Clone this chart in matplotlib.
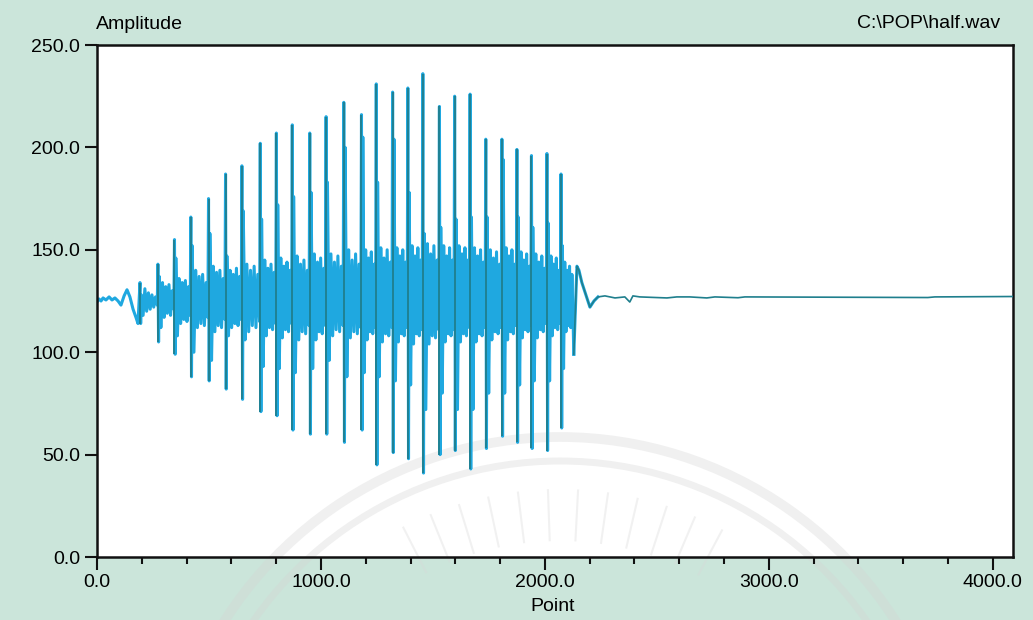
import matplotlib.pyplot as plt
from matplotlib.patches import Arc
from matplotlib.transforms import IdentityTransform
import numpy as np

# Waveform (x in points, y in amplitude units)

# onset before the first pitch pulse
onset_x = [0, 9, 18, 27, 40, 54, 67, 80, 94, 107, 121, 134, 147, 161, 174, 183]
onset_y = [124.5, 126, 125, 126.5, 125.5, 127, 125.5, 126.5, 125, 123, 127.5, 130.5, 127, 121, 117, 114]

# main pitch pulses: position, peak, trough
spike_x = [192, 272, 346, 419, 498, 574, 647, 729, 801, 872, 950, 1023, 1102, 1181,
           1247, 1320, 1388, 1455, 1529, 1597, 1666, 1736, 1808, 1875, 1940, 2009, 2072]
spike_top = [134, 143, 155, 166, 175, 187, 191, 202, 207, 211, 207, 215, 222, 216,
             231, 227, 229, 236, 220, 225, 226, 204, 204, 199, 196, 197, 187]
spike_bot = [114, 105, 99, 88, 86, 82, 77, 71, 69, 62, 60, 60, 56, 62,
             45, 51, 48, 41, 50, 52, 43, 53, 59, 56, 53, 52, 63]

# ripple between pulses (one row per pitch period)
ripple = [
    [128, 118, 131, 120, 129, 121, 128, 122, 127, 123],
    [137, 112, 134, 117, 132, 119, 133, 118, 130, 121],
    [146, 108, 136, 114, 134, 116, 135, 115, 132, 118],
    [152, 100, 140, 112, 137, 114, 138, 113, 134, 117],
    [158, 96, 142, 110, 139, 113, 140, 112, 136, 116],
    [147, 108, 140, 112, 138, 114, 141, 113, 137, 116],
    [169, 106, 143, 110, 140, 113, 142, 112, 138, 115],
    [165, 93, 145, 108, 141, 112, 143, 111, 139, 114],
    [172, 92, 146, 107, 142, 111, 144, 110, 140, 114],
    [176, 90, 147, 106, 143, 110, 145, 109, 140, 113],
    [178, 92, 148, 106, 144, 110, 146, 109, 141, 113],
    [183, 96, 148, 108, 144, 111, 147, 110, 142, 113],
    [200, 88, 150, 107, 145, 110, 148, 109, 143, 112],
    [205, 90, 150, 106, 146, 110, 149, 109, 143, 112],
    [183, 88, 151, 105, 146, 109, 150, 108, 144, 112],
    [204, 86, 151, 105, 147, 109, 150, 108, 144, 112],
    [178, 84, 152, 104, 147, 109, 151, 108, 145, 111],
    [158, 72, 153, 104, 148, 108, 152, 107, 145, 111],
    [161, 80, 152, 105, 147, 109, 151, 108, 145, 111],
    [165, 72, 152, 105, 148, 109, 151, 108, 145, 112],
    [166, 72, 151, 105, 147, 109, 150, 108, 144, 112],
    [166, 80, 150, 106, 146, 110, 149, 109, 143, 112],
    [194, 80, 151, 106, 147, 110, 150, 109, 143, 113],
    [166, 84, 149, 107, 145, 111, 148, 110, 142, 113],
    [161, 86, 148, 107, 144, 111, 147, 110, 141, 114],
    [163, 86, 147, 108, 143, 112, 146, 111, 140, 114],
    [152, 92, 144, 110, 140, 113, 142, 112, 138, 115],
]

# decay and silence after voicing
tail_x = [2129, 2143, 2152, 2165, 2183, 2201, 2219, 2237, 2268, 2313, 2357, 2379, 2393,
          2424, 2545, 2589, 2647, 2723, 2759, 2862, 2893, 3710, 3741, 4095]
tail_y = [99, 142, 140, 134, 128, 122, 125, 127, 127.5, 126.5, 127, 124.5, 127.5,
          127, 126.5, 127, 127, 126.5, 127, 126.6, 127, 126.7, 127, 127.2]

# assemble voiced part
wx = list(onset_x)
wy = list(onset_y)
bounds = spike_x + [tail_x[0]]
for i in range(len(spike_x)):
    t0 = spike_x[i]
    t1 = bounds[i + 1]
    wx += [t0, t0 + 3]
    wy += [spike_top[i], spike_bot[i]]
    pos = np.linspace(t0 + 6, t1 - 3, len(ripple[i]))
    wx += list(pos)
    wy += ripple[i]

blue = '#1fa8e0'
teal = '#1f7f8d'
bg = '#cbe5da'

plt.rcParams['font.family'] = ['Liberation Sans', 'DejaVu Sans']

fig = plt.figure(figsize=(10.33, 6.2), dpi=100, facecolor=bg)
ax = fig.add_axes([0.0939, 0.1016, 0.8867, 0.8258])
ax.set_facecolor('white')

# faint watermark arcs behind the trace (pixel coordinates)
px = IdentityTransform()
for r, w in [(398, 7), (374, 5)]:
    ax.add_patch(Arc((560, -215), 2 * r, 2 * r, theta1=20, theta2=160, lw=w,
                     color='#d4d4d4', alpha=0.35, transform=px, clip_on=False, zorder=1))
for a in np.radians(np.arange(62, 119, 5)):
    ax.plot([560 + 295 * np.cos(a), 560 + 345 * np.cos(a)],
            [-215 + 295 * np.sin(a), -215 + 345 * np.sin(a)],
            color='#d8d8d8', lw=1.5, alpha=0.35, transform=px, clip_on=False, zorder=1)

ax.plot(wx + [tail_x[0]], wy + [tail_y[0]], color=blue, lw=2.2, zorder=2)
ax.plot(tail_x[:8], tail_y[:8], color=blue, lw=2.2, zorder=2)
ax.plot(tail_x, tail_y, color=teal, lw=1.2, zorder=3)
ax.vlines(spike_x, spike_bot, spike_top, color=teal, lw=1.3, zorder=4)

ax.set_xlim(0, 4090)
ax.set_ylim(0, 250)
ax.set_xticks([0, 1000, 2000, 3000, 4000])
ax.set_xticks(np.arange(0, 4001, 200), minor=True)
ax.set_yticks([0, 50, 100, 150, 200, 250])
ax.set_xticklabels(['0.0', '1000.0', '2000.0', '3000.0', '4000.0'])
ax.set_yticklabels(['0.0', '50.0', '100.0', '150.0', '200.0', '250.0'])
ax.tick_params(which='major', length=9, width=1.5, labelsize=14, color='#111111', pad=3)
ax.tick_params(which='minor', length=5, width=1.5, color='#111111')
for s in ax.spines.values():
    s.set_linewidth(1.8)
    s.set_color('#111111')

fig.text(0.093, 0.960, 'Amplitude', fontsize=14, ha='left', va='center')
fig.text(0.968, 0.962, 'C:\\POP\\half.wav', fontsize=14, ha='right', va='center')
fig.text(0.535, 0.021, 'Point', fontsize=14, ha='center', va='center')

fig.savefig('out.png', dpi=100, facecolor=bg)
